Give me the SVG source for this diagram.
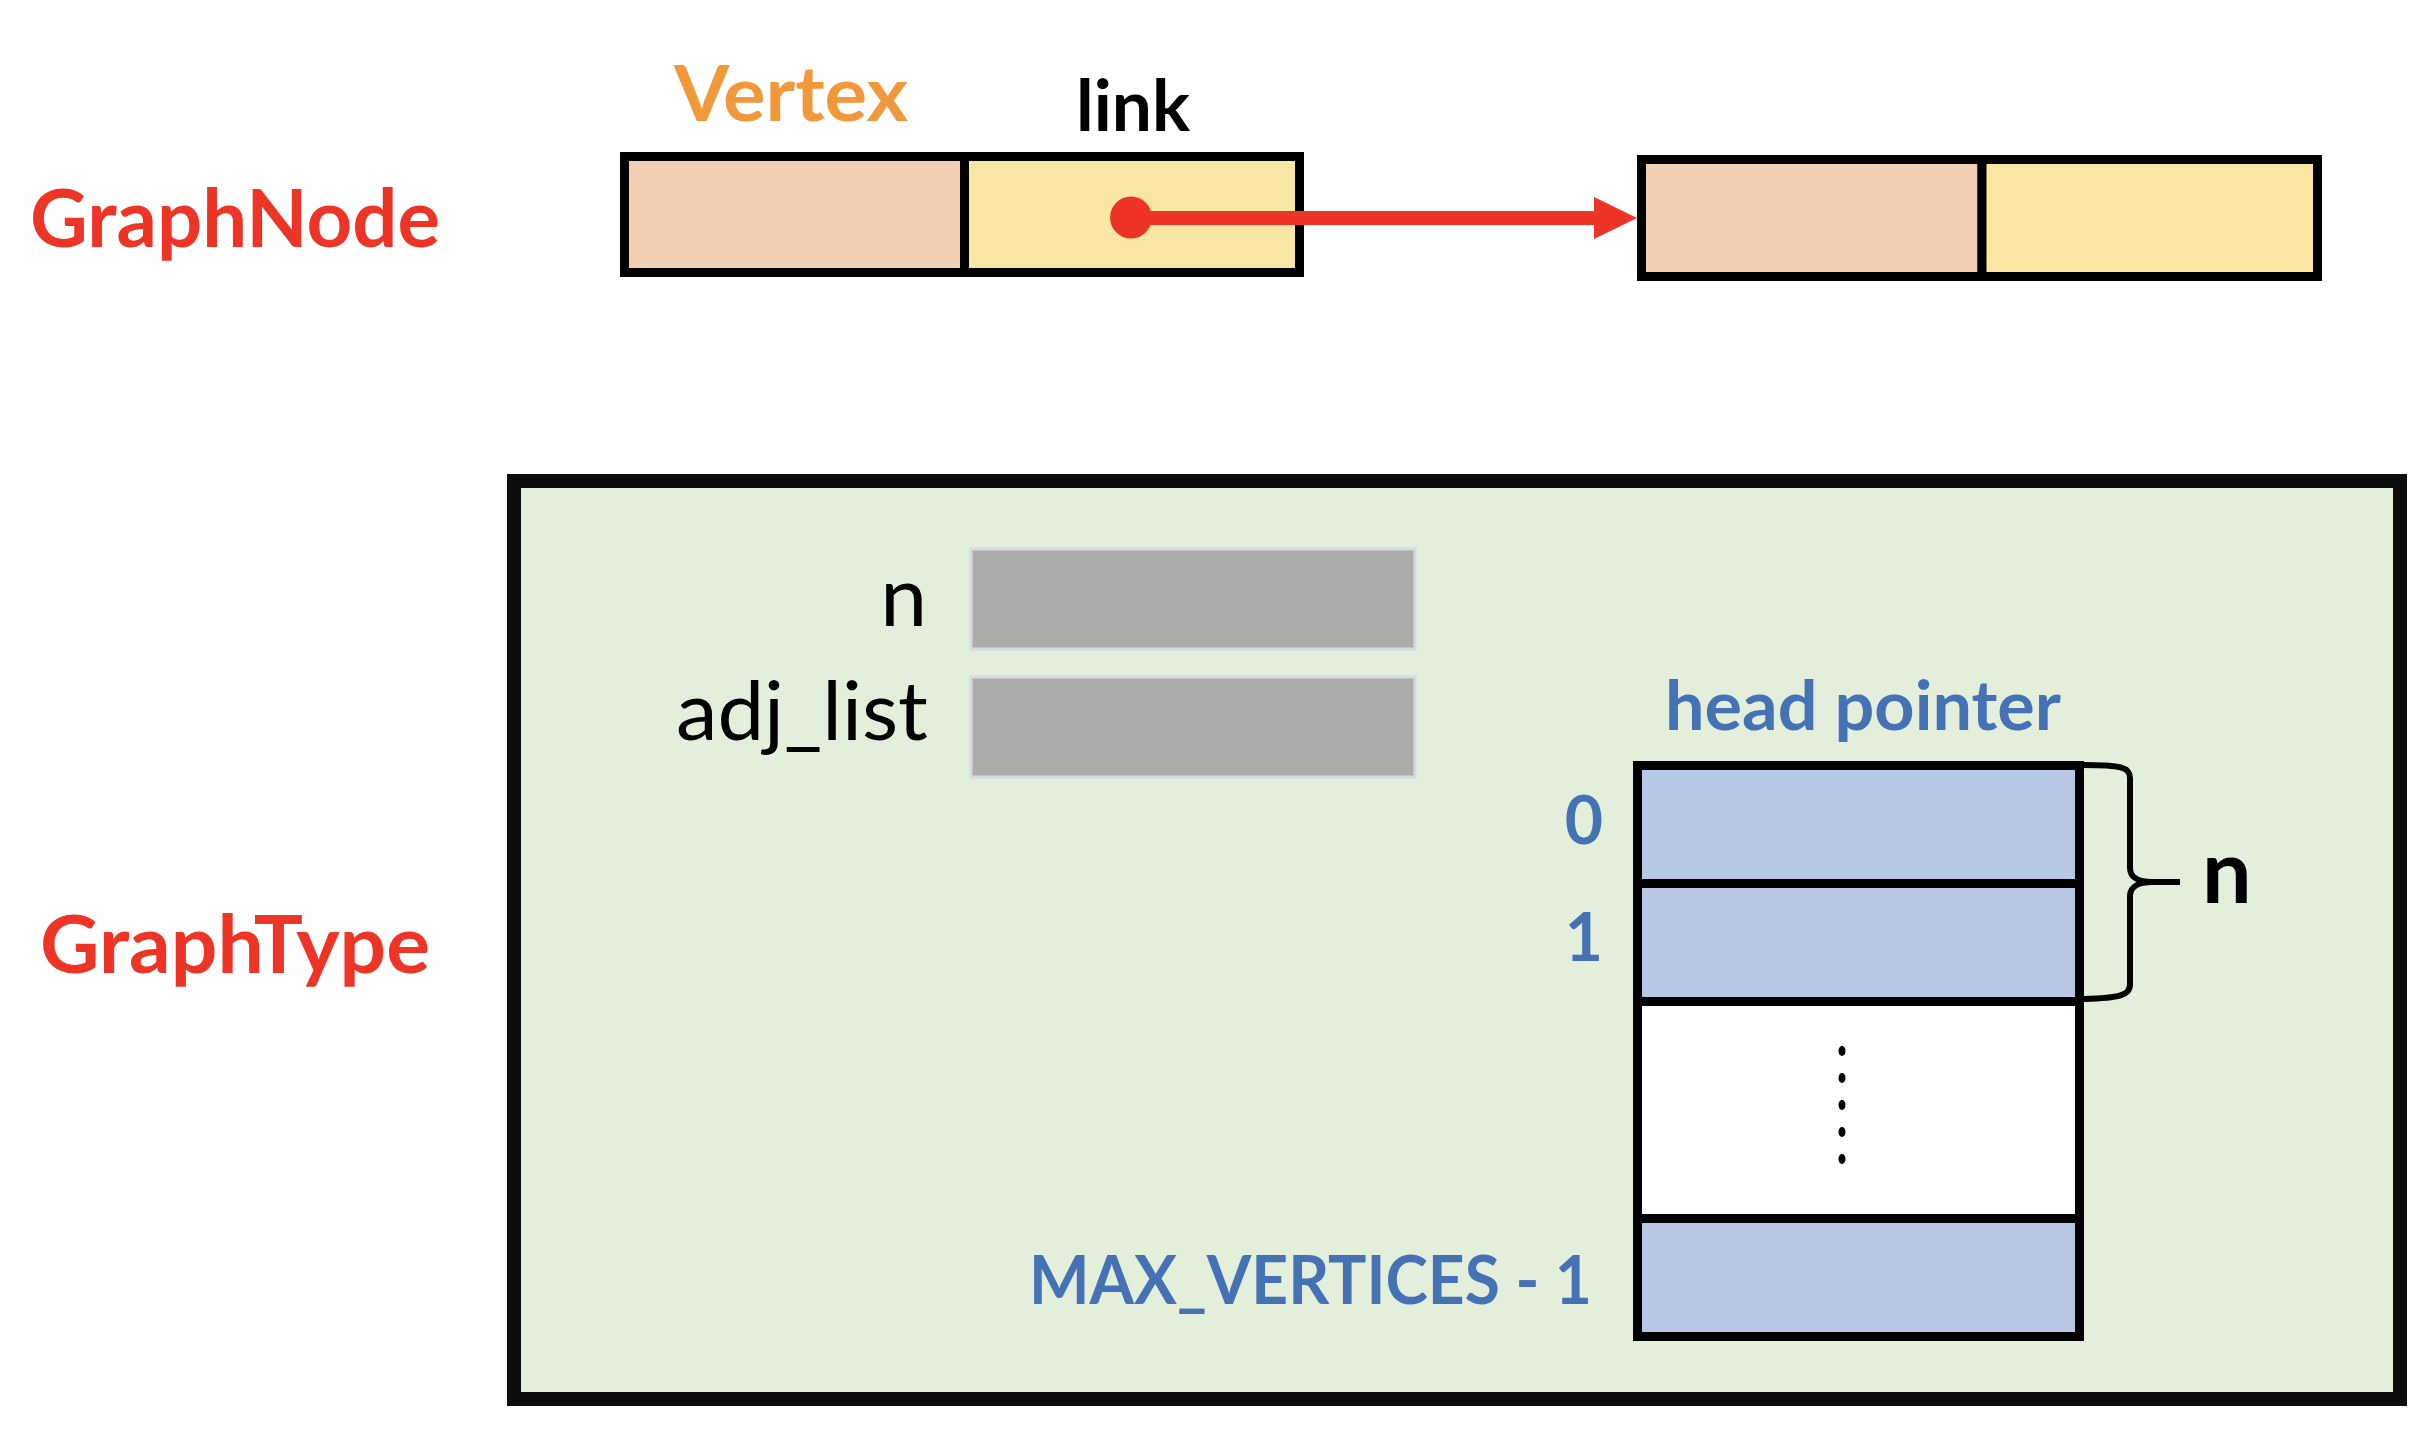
<svg xmlns="http://www.w3.org/2000/svg" width="2424" height="1440" viewBox="0 0 2424 1440">
<style>
.bold{font-family:Lato,"Open Sans","Liberation Sans",sans-serif;font-weight:700}
.reg{font-family:Lato,"Open Sans","Liberation Sans",sans-serif;font-weight:400}
.red{fill:#EC3526}
.blue{fill:#4472B4}
.cell{stroke:#000;stroke-width:9}
.peach{fill:#F2CEB2}
.yellow{fill:#FAE6A3}
.slot{fill:#B8C7E4;stroke:#000;stroke-width:9}
.gray{fill:#ADACAA;stroke:#D5DAE4;stroke-width:3}
</style>
<rect width="2424" height="1440" fill="#fff"/>
<g id="labels">
<text class="bold red" x="30" y="247" font-size="80" textLength="410" lengthAdjust="spacingAndGlyphs">GraphNode</text>
<text class="bold red" x="40" y="973" font-size="80" textLength="390" lengthAdjust="spacingAndGlyphs">GraphType</text>
<text class="bold" x="674" y="121" font-size="77" fill="#F0993B" textLength="234" lengthAdjust="spacingAndGlyphs">Vertex</text>
<text class="bold" x="1076" y="131" font-size="71" fill="#000" textLength="114" lengthAdjust="spacingAndGlyphs">link</text>
</g>
<g id="node1">
<rect class="cell peach" x="624.5" y="156.5" width="340" height="116"/>
<rect class="cell yellow" x="964.5" y="156.5" width="335" height="116"/>
</g>
<g id="node2">
<rect class="cell peach" x="1641.5" y="159.5" width="340.5" height="117"/>
<rect class="cell yellow" x="1982" y="159.5" width="335.5" height="117"/>
</g>
<g id="graphtype">
<rect x="514" y="481" width="1886" height="918" fill="#E3EFDA" stroke="#0D0D0D" stroke-width="14"/>
<g id="field-n">
<rect class="gray" x="971" y="549" width="444" height="100"/>
<text class="reg" x="927" y="626" font-size="84" fill="#000" text-anchor="end">n</text>
</g>
<g id="field-adj">
<rect class="gray" x="971" y="677" width="444" height="100"/>
<text class="reg" x="676" y="740" font-size="82" fill="#000" textLength="252" lengthAdjust="spacingAndGlyphs">adj_list</text>
</g>
<g id="head-array">
<text class="bold blue" x="1665" y="730" font-size="69" textLength="396" lengthAdjust="spacingAndGlyphs">head pointer</text>
<rect class="slot" x="1637.5" y="765.5" width="442" height="118"/>
<rect class="slot" x="1637.5" y="883.5" width="442" height="118"/>
<rect x="1637.5" y="1001.5" width="442" height="217" fill="#fff" stroke="#000" stroke-width="9"/>
<rect class="slot" x="1637.5" y="1218.5" width="442" height="118"/>
<g fill="#000">
<ellipse cx="1842" cy="1051" rx="3.5" ry="5"/>
<ellipse cx="1842" cy="1078" rx="3.5" ry="5"/>
<ellipse cx="1842" cy="1105" rx="3.5" ry="5"/>
<ellipse cx="1842" cy="1132" rx="3.5" ry="5"/>
<ellipse cx="1842" cy="1159" rx="3.5" ry="5"/>
</g>
<text class="bold blue" x="1603" y="844" font-size="66" text-anchor="end">0</text>
<text class="bold blue" x="1603" y="961" font-size="66" text-anchor="end">1</text>
<text class="bold blue" x="1029" y="1304" font-size="66" textLength="563" lengthAdjust="spacingAndGlyphs">MAX_VERTICES - 1</text>
</g>
<g id="brace">
<path d="M2084,765 C2120,765 2130,767 2130,778 L2130,868 C2130,878 2140,882 2152,882 L2180,882 M2152,882 C2140,882 2130,886 2130,896 L2130,985 C2130,995 2120,998 2084,999" fill="none" stroke="#000" stroke-width="6"/>
<text class="bold" x="2202" y="903" font-size="88" fill="#000">n</text>
</g>
</g>
<g id="connectors">
<circle cx="1131" cy="217.5" r="21" class="red"/>
<line x1="1131" y1="218" x2="1596" y2="218" stroke="#EC3526" stroke-width="14"/>
<polygon points="1594,197 1637,218 1594,239" class="red"/>
</g>
</svg>
